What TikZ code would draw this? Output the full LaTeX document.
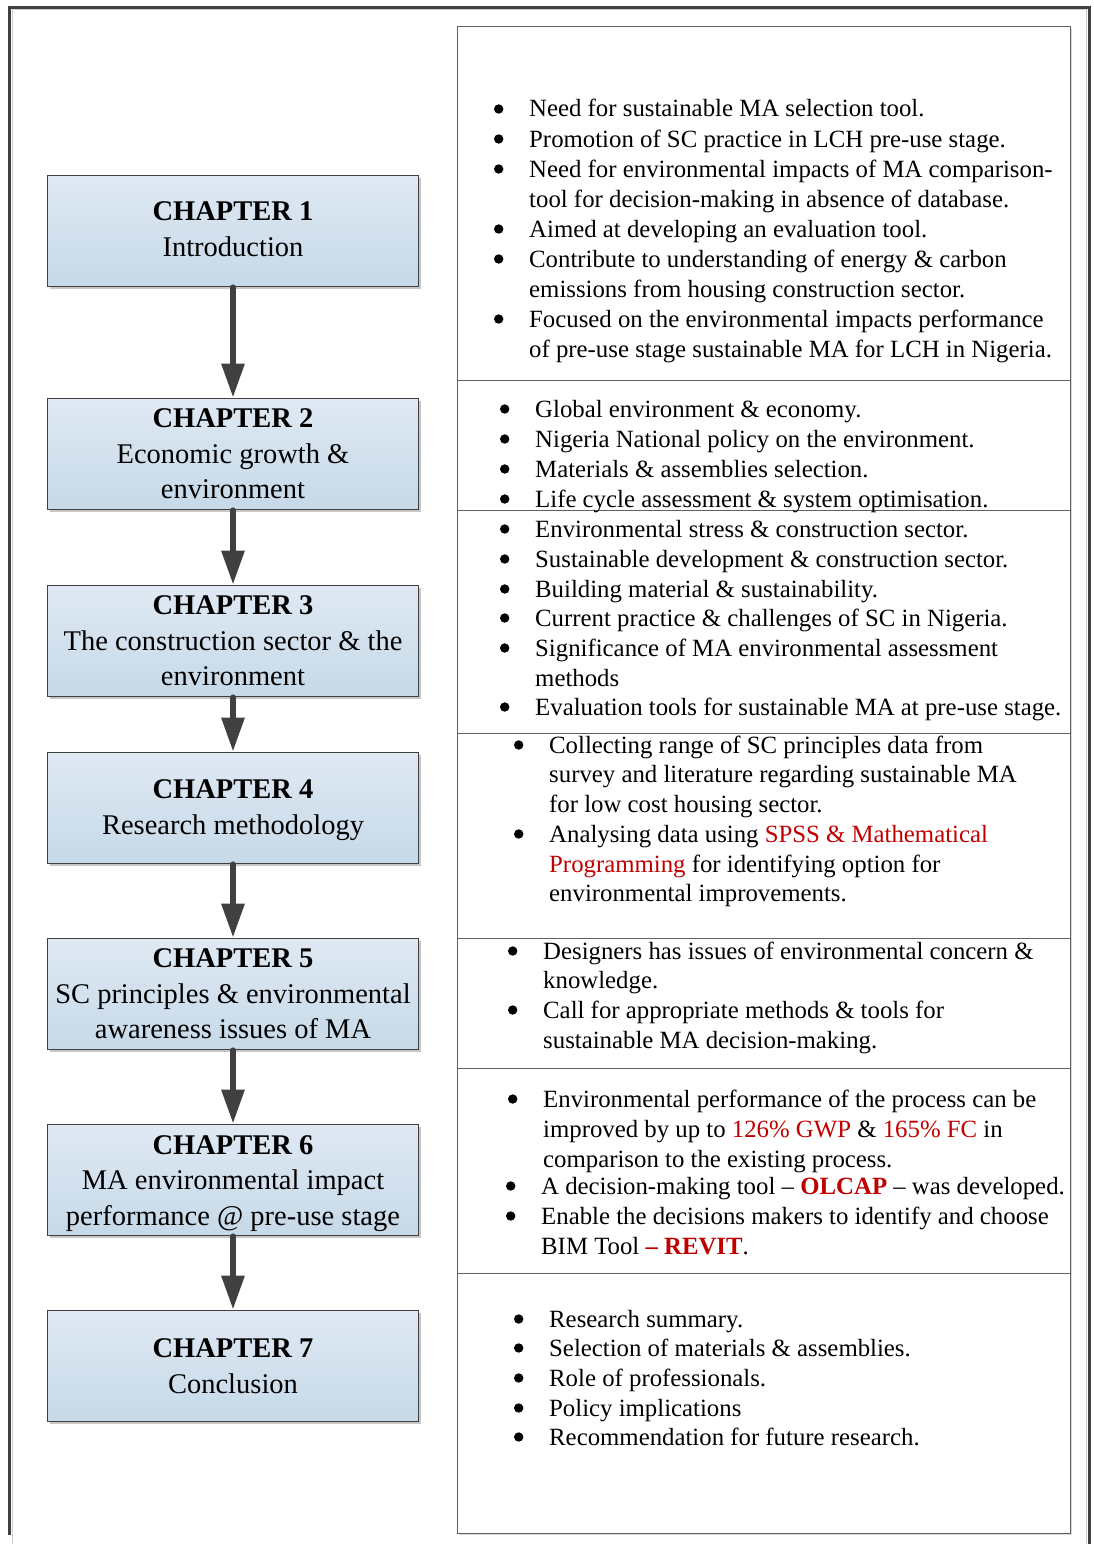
\documentclass[tikz,border=0pt]{standalone}
\usepackage{fontspec}
\setmainfont{Liberation Serif}
\usetikzlibrary{arrows.meta,shadows}
\definecolor{framegray}{HTML}{404040}
\definecolor{boxtop}{HTML}{DFE9F3}
\definecolor{boxbot}{HTML}{C6D9E8}
\definecolor{wred}{HTML}{C00000}
\newcommand\bul{\llap{\raisebox{3.3pt}{\tikz\fill[black] (0,0) circle[radius=4.7pt];}\hspace{25.8pt}}}
\newcommand\rd[1]{\textcolor{wred}{#1}}
\newcommand\deep[1]{\rule[-#1]{0pt}{0pt}}
\newcommand\tall[1]{\rule{0pt}{#1}}
\begin{document}
\begin{tikzpicture}[x={(1pt,0)},y={(0,-1pt)},
  chap/.style={draw=framegray, line width=1.8pt, top color=boxtop, bottom color=boxbot,
    minimum width=371pt, minimum height=111pt, inner sep=0pt, align=center,
    font=\fontsize{28.5}{35.5}\selectfont,
    drop shadow={shadow xshift=2.5pt, shadow yshift=-2.5pt, fill=black!22, opacity=1}},
  sect/.style={draw=black!62, line width=1.2pt, fill=white, minimum width=613pt,
    inner sep=0pt, anchor=north west,
    drop shadow={shadow xshift=1.5pt, shadow yshift=-1.5pt, fill=black!15, opacity=1}},
  ln/.style={anchor=base west, inner sep=0pt, font=\fontsize{24.8}{29.8}\selectfont},
  conn/.style={draw=framegray, line width=6pt, line cap=round,
    -{Triangle[width=22pt,length=34pt]}},
  outer/.style={draw=framegray, line width=3pt}]
\useasboundingbox (0,0) rectangle (1093,1544);
% outer frame
\draw[black!20, line width=1pt] (12.5,1544) -- (12.5,10) -- (1086,10) -- (1086,1544);
\draw[outer] (9.5,1535) -- (9.5,7.5) -- (1089,7.5) -- (1089,1544);

% right column sections
\node[sect, minimum height=354pt] (r1) at (457,26) {};
\node[sect, minimum height=130pt] (r2) at (457,380) {};
\node[sect, minimum height=223pt] (r3) at (457,510) {};
\node[sect, minimum height=205pt] (r4) at (457,733) {};
\node[sect, minimum height=130pt] (r5) at (457,938) {};
\node[sect, minimum height=205pt] (r6) at (457,1068) {};
\node[sect, minimum height=260pt] (r7) at (457,1273) {};

% section 1
\node[ln] (s1a) at (529,117) {\bul Need for sustainable MA selection tool.};
\node[ln] (s1b) at (529,147) {\bul Promotion of SC practice in LCH pre-use stage.};
\node[ln] (s1c) at (529,177) {\bul Need for environmental impacts of MA comparison-};
\node[ln] (s1d) at (529,207) {tool for decision-making in absence of database.};
\node[ln] (s1e) at (529,237) {\bul Aimed at developing an evaluation tool.};
\node[ln] (s1f) at (529,267) {\bul Contribute to understanding of energy \& carbon};
\node[ln] (s1g) at (529,297) {emissions from housing construction sector.};
\node[ln] (s1h) at (529,327) {\bul Focused on the environmental impacts performance};
\node[ln] (s1i) at (529,357) {of pre-use stage sustainable MA for LCH in Nigeria.};

% section 2
\node[ln] (s2a) at (535,417) {\bul Global environment \& economy.};
\node[ln] (s2b) at (535,447) {\bul Nigeria National policy on the environment.};
\node[ln] (s2c) at (535,477) {\bul Materials \& assemblies selection.};
\node[ln] (s2d) at (535,507) {\bul Life cycle assessment \& system optimisation.};

% section 3
\node[ln] (s3a) at (535,537) {\bul Environmental stress \& construction sector.};
\node[ln] (s3b) at (535,567) {\bul Sustainable development \& construction sector.};
\node[ln] (s3c) at (535,597) {\bul Building material \& sustainability.};
\node[ln] (s3d) at (535,626) {\bul Current practice \& challenges of SC in Nigeria.};
\node[ln] (s3e) at (535,656) {\bul Significance of MA environmental assessment};
\node[ln] (s3f) at (535,686) {methods};
\node[ln] (s3g) at (535,715) {\bul Evaluation tools for sustainable MA at pre-use stage.};

% section 4
\node[ln] (s4a) at (549,753) {\bul Collecting range of SC principles data from};
\node[ln] (s4b) at (549,782) {survey and literature regarding sustainable MA};
\node[ln] (s4c) at (549,812) {for low cost housing sector.};
\node[ln] (s4d) at (549,842) {\bul Analysing data using \rd{SPSS \& Mathematical}};
\node[ln] (s4e) at (549,872) {\rd{Programming} for identifying option for};
\node[ln] (s4f) at (549,901) {environmental improvements.};

% section 5
\node[ln] (s5a) at (543,959) {\bul Designers has issues of environmental concern \&};
\node[ln] (s5b) at (543,988) {knowledge.};
\node[ln] (s5c) at (543,1018) {\bul Call for appropriate methods \& tools for};
\node[ln] (s5d) at (543,1048) {sustainable MA decision-making.};

% section 6
\node[ln] (s6a) at (543,1107) {\bul Environmental performance of the process can be};
\node[ln] (s6b) at (543,1137) {improved by up to \rd{126\% GWP} \& \rd{165\% FC} in};
\node[ln] (s6c) at (543,1167) {comparison to the existing process.};
\node[ln] (s6d) at (541,1194) {\bul A decision-making tool – \textbf{\rd{OLCAP}} – was developed.};
\node[ln] (s6e) at (541,1224) {\bul Enable the decisions makers to identify and choose};
\node[ln] (s6f) at (541,1254) {BIM Tool \textbf{\rd{– REVIT}}.};

% section 7
\node[ln] (s7a) at (549,1327) {\bul Research summary.};
\node[ln] (s7b) at (549,1356) {\bul Selection of materials \& assemblies.};
\node[ln] (s7c) at (549,1386) {\bul Role of professionals.};
\node[ln] (s7d) at (549,1416) {\bul Policy implications};
\node[ln] (s7e) at (549,1445) {\bul Recommendation for future research.};

% chapter boxes
\node[chap] (b1) at (233,231) {\textbf{CHAPTER 1}\\Introduction\deep{4pt}};
\node[chap] (b2) at (233,454) {\textbf{CHAPTER 2}\\Economic growth \&\\environment};
\node[chap] (b3) at (233,641) {\textbf{CHAPTER 3}\\The construction sector \& the\\environment};
\node[chap] (b4) at (233,808) {\tall{23.5pt}\textbf{CHAPTER 4}\\Research methodology};
\node[chap] (b5) at (233,994) {\textbf{CHAPTER 5}\\SC principles \& environmental\\awareness issues of MA};
\node[chap] (b6) at (233,1180) {\tall{25.5pt}\textbf{CHAPTER 6}\\MA environmental impact\\performance @ pre-use stage};
\node[chap] (b7) at (233,1366) {\textbf{CHAPTER 7}\\Conclusion};

% connectors
\draw[conn] (b1.south) -- (b2.north);
\draw[conn] (b2.south) -- (b3.north);
\draw[conn] (b3.south) -- (b4.north);
\draw[conn] (b4.south) -- (b5.north);
\draw[conn] (b5.south) -- (b6.north);
\draw[conn] (b6.south) -- (b7.north);
\end{tikzpicture}
\end{document}
